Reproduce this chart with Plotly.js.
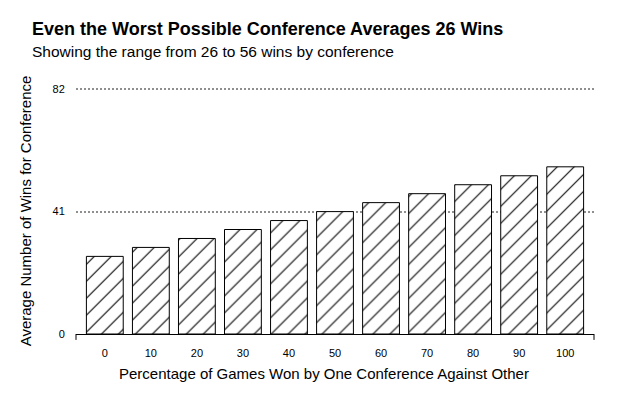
<!DOCTYPE html>
<html>
<head>
<meta charset="utf-8">
<script src="https://cdn.plot.ly/plotly-3.0.1.min.js"></script>
<style>html,body{margin:0;padding:0;background:#fff;}#chart{width:630px;height:400px;}</style>
</head>
<body>
<div id="chart"></div>
<script>
const categories = [0, 10, 20, 30, 40, 50, 60, 70, 80, 90, 100];
const avgWins = [26, 29, 32, 35, 38, 41, 44, 47, 50, 53, 56];
const yTickVals = [0, 41, 82];
const yTickText = ['0', '41', '82'];

const FONT = 'Liberation Sans, Arial, Helvetica, sans-serif';

const trace = {
  type: 'bar',
  x: categories,
  y: avgWins,
  width: 8,
  marker: {
    color: 'white',
    line: {color: 'black', width: 1},
    pattern: {shape: '/', bgcolor: 'white', fgcolor: 'black', size: 12, solidity: 0.09, fillmode: 'replace'}
  },
  hoverinfo: 'x+y'
};

const layout = {
  width: 630, height: 400,
  margin: {l: 76, r: 36, t: 88, b: 66},
  paper_bgcolor: 'white', plot_bgcolor: 'white',
  font: {family: FONT, color: 'black', size: 11},
  showlegend: false,
  xaxis: {
    range: [-6.26, 106.26],
    tickvals: categories,
    ticktext: categories.map(String),
    ticks: 'outside', ticklen: 9, tickcolor: 'rgba(0,0,0,0)',
    showline: true, linecolor: 'black', linewidth: 1,
    showgrid: false, zeroline: false,
    tickfont: {size: 11, family: FONT}
  },
  yaxis: {
    range: [0, 82.4],
    tickvals: yTickVals,
    ticktext: yTickText,
    ticks: 'outside', ticklen: 8, tickcolor: 'rgba(0,0,0,0)',
    showline: false, zeroline: false,
    showgrid: true, gridcolor: '#8f8f8f', griddash: '2px,2px', gridwidth: 2,
    tickfont: {size: 11, family: FONT},
    title: {text: 'Average Number of Wins for Conference', font: {size: 15, family: FONT}, standoff: 17}
  },
  shapes: [
    {type: 'line', xref: 'paper', yref: 'paper', x0: 0, x1: 0, y0: 0, y1: -0.024, line: {color: 'black', width: 1}},
    {type: 'line', xref: 'paper', yref: 'paper', x0: 1, x1: 1, y0: 0, y1: -0.024, line: {color: 'black', width: 1}}
  ],
  annotations: [
    {text: '<b>Even the Worst Possible Conference Averages 26 Wins</b>', xref: 'paper', yref: 'paper',
     x: -0.0888, y: 1.238, xanchor: 'left', yanchor: 'middle', showarrow: false,
     font: {size: 18, family: FONT, color: 'black'}},
    {text: 'Showing the range from 26 to 56 wins by conference', xref: 'paper', yref: 'paper',
     x: -0.0888, y: 1.15, xanchor: 'left', yanchor: 'middle', showarrow: false,
     font: {size: 15.5, family: FONT, color: 'black'}},
    {text: 'Percentage of Games Won by One Conference Against Other', xref: 'paper', yref: 'paper',
     x: 0.4788, y: -0.160, xanchor: 'center', yanchor: 'middle', showarrow: false,
     font: {size: 15, family: FONT, color: 'black'}}
  ]
};

Plotly.newPlot('chart', [trace], layout, {displayModeBar: false, staticPlot: true});
</script>
</body>
</html>
